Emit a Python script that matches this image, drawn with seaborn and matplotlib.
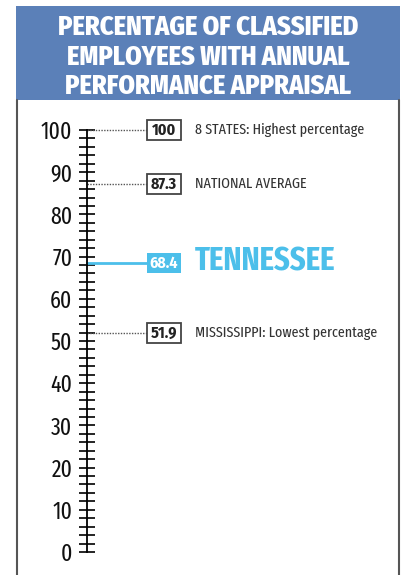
import pandas as pd
import matplotlib.pyplot as plt
import seaborn as sns
from matplotlib.patches import Rectangle

# values
values = [100, 87.3, 68.4, 51.9]
value_labels = ["100", "87.3", "68.4", "51.9"]
names = ["8 STATES: Highest percentage", "NATIONAL AVERAGE", "TENNESSEE",
         "MISSISSIPPI: Lowest percentage"]
highlight = [False, False, True, False]
major_ticks = list(range(0, 101, 10))
minor_ticks = list(range(0, 101, 2))
title = "PERCENTAGE OF CLASSIFIED\nEMPLOYEES WITH ANNUAL\nPERFORMANCE APPRAISAL"

W, H = 403, 575
BLUE_TITLE = "#5b80b8"
BLUE_TN = "#4cbfea"
AXIS_X = 87
BOX_X0, BOX_X1 = 147, 181
LABEL_X = 195
COND = ["Fira Sans Condensed", "DejaVu Sans"]
XCOND = ["Fira Sans Extra Condensed", "Fira Sans Condensed", "DejaVu Sans"]

sns.set_style("white")
plt.rcParams["font.family"] = COND

fig = plt.figure(figsize=(W / 100, H / 100), dpi=100)
ax = fig.add_axes([0, 0, 1, 1])
ax.set_xlim(0, W)
# pixel y = 552 - 4.22 * value
ax.set_ylim((552 - H) / 4.22, 552 / 4.22)


def px(x, y):
    return x / W, 1 - y / H


# title band and side frame
ax.add_patch(Rectangle(px(16, 100), (400 - 16) / W, 94 / H, transform=ax.transAxes,
                       facecolor=BLUE_TITLE, edgecolor="none", zorder=1))
ax.text(*px(208, 57), title, transform=ax.transAxes, ha="center", va="center",
        color="white", fontsize=19, fontweight="heavy", linespacing=1.15)
for fx in (16.5, 399):
    ax.plot([fx / W, fx / W], [0, 1 - 100 / H], transform=ax.transAxes,
            color="#555555", lw=1.5)

# scale axis
for s in ["top", "right", "bottom"]:
    ax.spines[s].set_visible(False)
ax.spines["left"].set_position(("data", AXIS_X))
ax.spines["left"].set_bounds(0, 100)
ax.spines["left"].set_linewidth(1.3)
ax.spines["left"].set_color("black")
ax.set_xticks([])
ax.set_yticks(major_ticks)
ax.set_yticks(minor_ticks, minor=True)
ax.tick_params(axis="y", which="both", left=True, direction="inout", length=11,
               width=1.2, color="black", pad=5, labelcolor="#111111")
for t in ax.get_yticklabels():
    t.set_family(XCOND)
    t.set_fontsize(17)

# leader lines
lead = pd.DataFrame({
    "x": [AXIS_X, BOX_X0] * len(values),
    "value": [v for v in values for _ in range(2)],
    "name": [n for n in names for _ in range(2)],
    "hl": [h for h in highlight for _ in range(2)],
})
sns.lineplot(data=lead[~lead["hl"]], x="x", y="value", units="name", estimator=None,
             color="#555555", lw=1, linestyle=(0, (1, 1)), ax=ax, legend=False)
sns.lineplot(data=lead[lead["hl"]], x="x", y="value", units="name", estimator=None,
             color=BLUE_TN, lw=2, ax=ax, legend=False)
ax.set_xlabel("")
ax.set_ylabel("")

half = 10 / 4.22
for v, vl, n, h in zip(values, value_labels, names, highlight):
    if h:
        ax.add_patch(Rectangle((BOX_X0, v - half), BOX_X1 - BOX_X0, 2 * half,
                               facecolor=BLUE_TN, edgecolor="none", zorder=3))
        ax.text((BOX_X0 + BOX_X1) / 2, v, vl, ha="center", va="center",
                color="white", fontsize=11.5, fontweight="bold", zorder=4)
        ax.text(LABEL_X, v + 0.4, n, ha="left", va="center", color=BLUE_TN,
                fontsize=24, fontweight="bold", family=XCOND)
    else:
        ax.add_patch(Rectangle((BOX_X0, v - half), BOX_X1 - BOX_X0, 2 * half,
                               facecolor="white", edgecolor="#444444", lw=1.3, zorder=3))
        ax.text((BOX_X0 + BOX_X1) / 2, v, vl, ha="center", va="center",
                color="#222222", fontsize=11.5, fontweight="bold", zorder=4)
        ax.text(LABEL_X, v, n, ha="left", va="center", color="#333333", fontsize=11,
                family=XCOND)

fig.savefig("out.png", dpi=100)
